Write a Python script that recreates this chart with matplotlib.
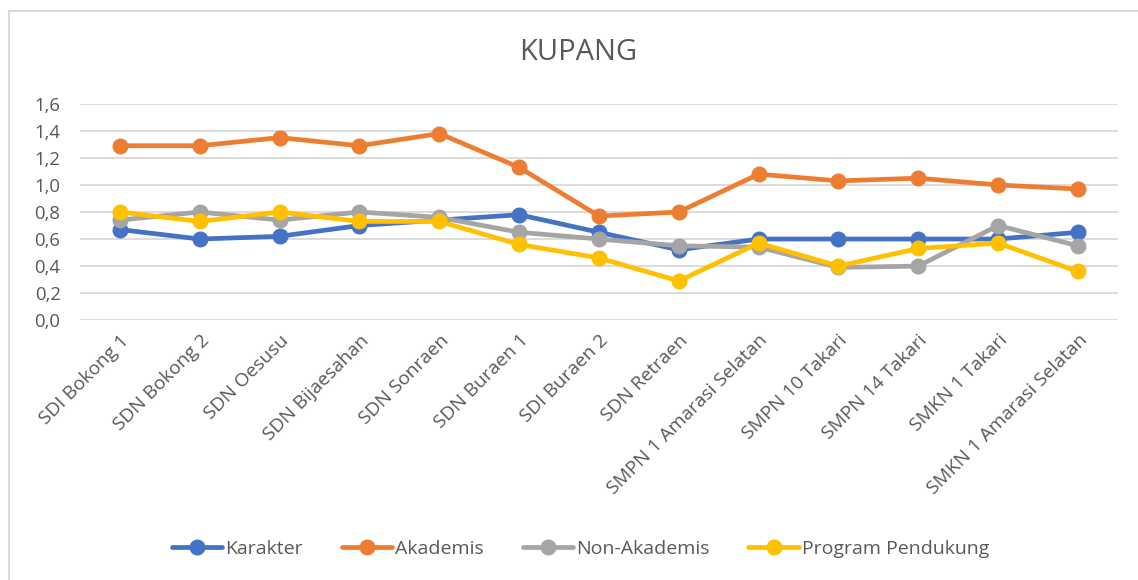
import numpy as np
import matplotlib.pyplot as plt
from matplotlib.patches import Rectangle
from matplotlib.ticker import FuncFormatter

plt.rcParams['font.family'] = ['Open Sans', 'DejaVu Sans']

schools = ["SDI Bokong 1", "SDN Bokong 2", "SDN Oesusu", "SDN Bijaesahan",
           "SDN Sonraen", "SDN Buraen 1", "SDI Buraen 2", "SDN Retraen",
           "SMPN 1 Amarasi Selatan", "SMPN 10 Takari", "SMPN 14 Takari",
           "SMKN 1 Takari", "SMKN 1 Amarasi Selatan"]

karakter = [0.67, 0.60, 0.62, 0.70, 0.74, 0.78, 0.65, 0.52, 0.60, 0.60, 0.60, 0.60, 0.65]
akademis = [1.29, 1.29, 1.35, 1.29, 1.38, 1.13, 0.77, 0.80, 1.08, 1.03, 1.05, 1.00, 0.97]
non_akademis = [0.74, 0.80, 0.74, 0.80, 0.76, 0.65, 0.60, 0.55, 0.54, 0.39, 0.40, 0.70, 0.55]
pendukung = [0.80, 0.73, 0.80, 0.73, 0.73, 0.56, 0.46, 0.29, 0.57, 0.40, 0.53, 0.57, 0.36]

series = [("Karakter", karakter, "#4472C4"),
          ("Akademis", akademis, "#ED7D31"),
          ("Non-Akademis", non_akademis, "#A5A5A5"),
          ("Program Pendukung", pendukung, "#FFC000")]

fig = plt.figure(figsize=(11.38, 5.8), dpi=100)
ax = fig.add_axes([0.0703, 0.448, 0.912, 0.373])

x = np.arange(len(schools))
for name, vals, col in series:
    ax.plot(x, vals, color=col, lw=3.4, marker='o', markersize=10.5, label=name,
            solid_capstyle='round')

ax.set_xlim(-0.5, len(schools) - 0.5)
ax.set_ylim(0, 1.6)
ax.set_yticks(np.arange(0, 1.61, 0.2))
ax.yaxis.set_major_formatter(FuncFormatter(lambda v, p: f"{v:.1f}".replace(".", ",")))
ax.grid(axis='y', color='#D9D9D9', lw=1.3)
ax.set_axisbelow(True)
for s in ax.spines.values():
    s.set_visible(False)
ax.tick_params(axis='y', length=0, labelsize=13.3, colors='#595959', pad=14)
ax.tick_params(axis='x', length=0, labelsize=13.8, colors='#595959', pad=8)
ax.set_xticks(x)
ax.set_xticklabels(schools, rotation=45, ha='right', rotation_mode='anchor')

fig.text(0.508, 0.91, "KUPANG", ha='center', va='center', fontsize=21, color='#595959')

fig.legend(loc='center', bbox_to_anchor=(0.51, 0.053), ncol=4, frameon=False,
           fontsize=14, handlelength=2.6, handletextpad=0.15, columnspacing=2.0,
           labelcolor='#595959')

# chart border (only top and left edges fall inside the picture)
fig.patches.append(Rectangle((9 / 1138, -0.05), 1.1, 0.05 + (1 - 11 / 580),
                             transform=fig.transFigure, fill=False,
                             edgecolor='#D9D9D9', lw=1.5))

fig.savefig("out.png", dpi=100)
